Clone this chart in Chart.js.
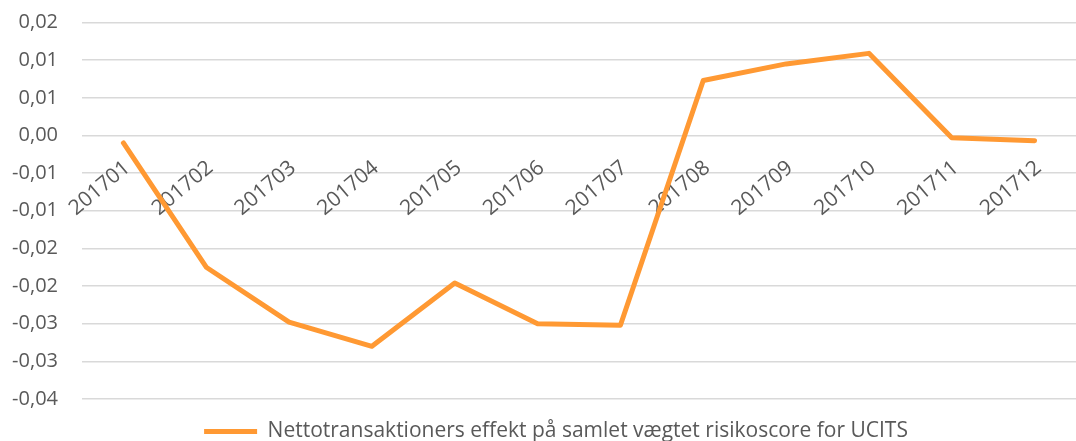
<!DOCTYPE html>
<html><head><meta charset="utf-8">
<script src="https://cdn.jsdelivr.net/npm/chart.js@4/dist/chart.umd.min.js"></script>
<style>html,body{margin:0;padding:0;background:#fff}#wrap{width:1076px;height:441px;position:relative;overflow:hidden}</style>
</head><body><div id="wrap"><canvas id="c" width="1076" height="441"></canvas></div>
<script>
const categories = ['201701','201702','201703','201704','201705','201706','201707','201708','201709','201710','201711','201712'];
const seriesName = 'Nettotransaktioners effekt på samlet vægtet risikoscore for UCITS';
const values = [-0.0010, -0.0175, -0.0248, -0.0280, -0.0196, -0.0250, -0.0252, 0.0073, 0.0095, 0.0109, -0.0003, -0.0007];
const yTickValues = [-0.035, -0.03, -0.025, -0.02, -0.015, -0.01, -0.005, 0, 0.005, 0.01, 0.015];
const yTickLabels = ['-0,04','-0,03','-0,03','-0,02','-0,02','-0,01','-0,01','0,00','0,01','0,01','0,02'];

const TEXT = '#595959';
const ORANGE = '#FF9933';
const FONT = "'Open Sans', sans-serif";

const legendShift = {
  id: 'legendShift',
  afterLayout(chart) {
    const l = chart.legend;
    if (l) { l.left += 14; l.right += 14; }
  }
};

new Chart(document.getElementById('c'), {
  type: 'line',
  data: {
    labels: categories,
    datasets: [{
      label: seriesName,
      data: values,
      borderColor: ORANGE,
      backgroundColor: ORANGE,
      borderWidth: 5,
      borderCapStyle: 'round',
      borderJoinStyle: 'round',
      pointRadius: 0,
      pointHoverRadius: 0,
      tension: 0,
      fill: false
    }]
  },
  plugins: [legendShift],
  options: {
    responsive: false,
    animation: false,
    events: [],
    layout: { padding: { left: 0, right: -8, top: 22.5, bottom: -11 } },
    plugins: {
      tooltip: { enabled: false },
      legend: {
        position: 'bottom',
        labels: {
          usePointStyle: true,
          pointStyle: 'line',
          pointStyleWidth: 53,
          boxHeight: 5,
          color: TEXT,
          font: { family: FONT, size: 21 },
          padding: 22
        }
      }
    },
    scales: {
      x: {
        type: 'category',
        position: { y: 0 },
        offset: true,
        grid: { display: false, drawTicks: false },
        border: { display: false },
        ticks: {
          autoSkip: false,
          minRotation: 40,
          maxRotation: 40,
          padding: 20,
          labelOffset: 4,
          color: TEXT,
          font: { family: FONT, size: 21 }
        }
      },
      y: {
        min: -0.035,
        max: 0.015,
        afterBuildTicks: s => { s.ticks = yTickValues.map(v => ({ value: v })); },
        afterFit: s => { s.width = 82; s.paddingTop = 0; s.paddingBottom = 0; },
        grid: { color: '#d9d9d9', lineWidth: 1.5, drawTicks: false },
        border: { display: false },
        ticks: {
          padding: 24,
          color: TEXT,
          font: { family: FONT, size: 20 },
          callback: (v, i) => yTickLabels[i]
        }
      }
    }
  }
});
</script></body></html>
